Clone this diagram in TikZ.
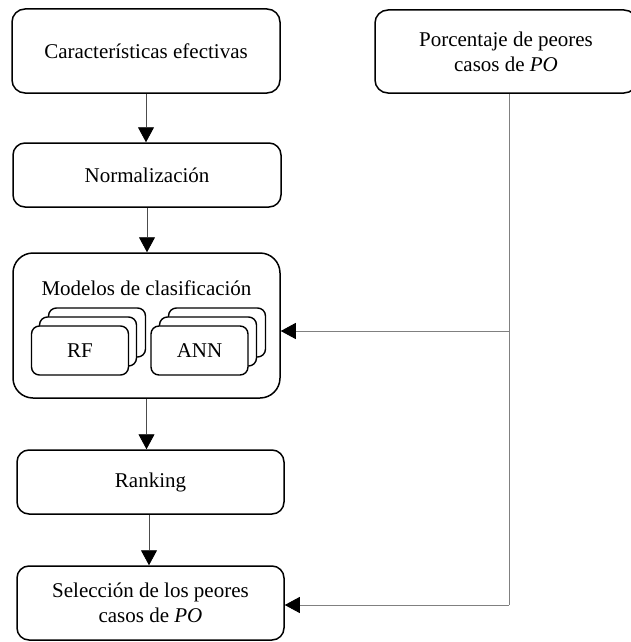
\documentclass[tikz,border=0pt]{standalone}
\usepackage{fontspec}
\setmainfont{Liberation Serif}
\usetikzlibrary{arrows.meta}
\begin{document}
\begin{tikzpicture}[x=1pt,y=-1pt,
  font=\fontsize{21}{25}\selectfont,
  box/.style={draw=black, line width=1.5pt, fill=white, rounded corners=13pt,
    align=center, inner sep=0pt},
  small/.style={draw=black, line width=1.4pt, fill=white, rounded corners=8pt,
    minimum width=97pt, minimum height=49pt, inner sep=0pt},
  tip/.style={-{Triangle[length=15pt,width=16pt,color=black]}},
  flow/.style={draw=black!70, line width=0.8pt, tip},
  feed/.style={draw=black!50, line width=0.9pt},
  feedarrow/.style={feed, tip}]
\useasboundingbox (0,0) rectangle (631,642);
\clip (0,0) rectangle (631,642);

% main column
\node[box, minimum width=268pt, minimum height=84pt] (feat) at (146,51)
  {Características efectivas};
\node[box, minimum width=268pt, minimum height=64pt, rounded corners=12pt] (norm) at (147,175)
  {Normalización};
\node[box, minimum width=267pt, minimum height=145pt, rounded corners=20pt] (models) at (146.5,325.5) {};
\node (mtitle) at (146.5,288) {Modelos de clasificación};

% stacked model boxes
\node[small] (rf3) at (97,332.5) {};
\node[small] (rf2) at (88,341.5) {};
\node[small] (rf) at (80,350.5) {RF};
\node[small] (ann3) at (217,332.5) {};
\node[small] (ann2) at (208,341.5) {};
\node[small] (ann) at (199.5,350.5) {ANN};

\node[box, minimum width=267pt, minimum height=64pt, rounded corners=12pt] (rank) at (150.5,482)
  {Ranking};
\node[box, minimum width=267pt, minimum height=74pt, rounded corners=12pt] (sel) at (150.5,603)
  {Selección de los peores\\casos de \textit{PO}};

% side input
\node[box, minimum width=262pt, minimum height=83pt] (pct) at (506,51.5)
  {Porcentaje de peores\\casos de \textit{PO}};

% flow arrows
\draw[flow] (feat.south) -- (feat.south |- norm.north);
\draw[flow] (norm.south) -- (norm.south |- models.north);
\draw[flow] (models.south) -- (models.south |- rank.north);
\draw[flow] ([xshift=-1.5pt]rank.south) -- ([xshift=-1.5pt]rank.south |- sel.north);

% feedback lines from the side input
\coordinate (drop) at ([xshift=3pt]pct.south);
\coordinate (mIn) at ([yshift=-5.5pt]models.east);
\coordinate (sIn) at ([yshift=-2pt]sel.east);
\coordinate (tap) at (drop |- mIn);
\coordinate (bend) at (drop |- sIn);
\draw[feed] (drop) -- (bend);
\draw[feedarrow] (tap) -- (mIn);
\draw[feedarrow] (bend) -- (sIn);
\end{tikzpicture}
\end{document}
